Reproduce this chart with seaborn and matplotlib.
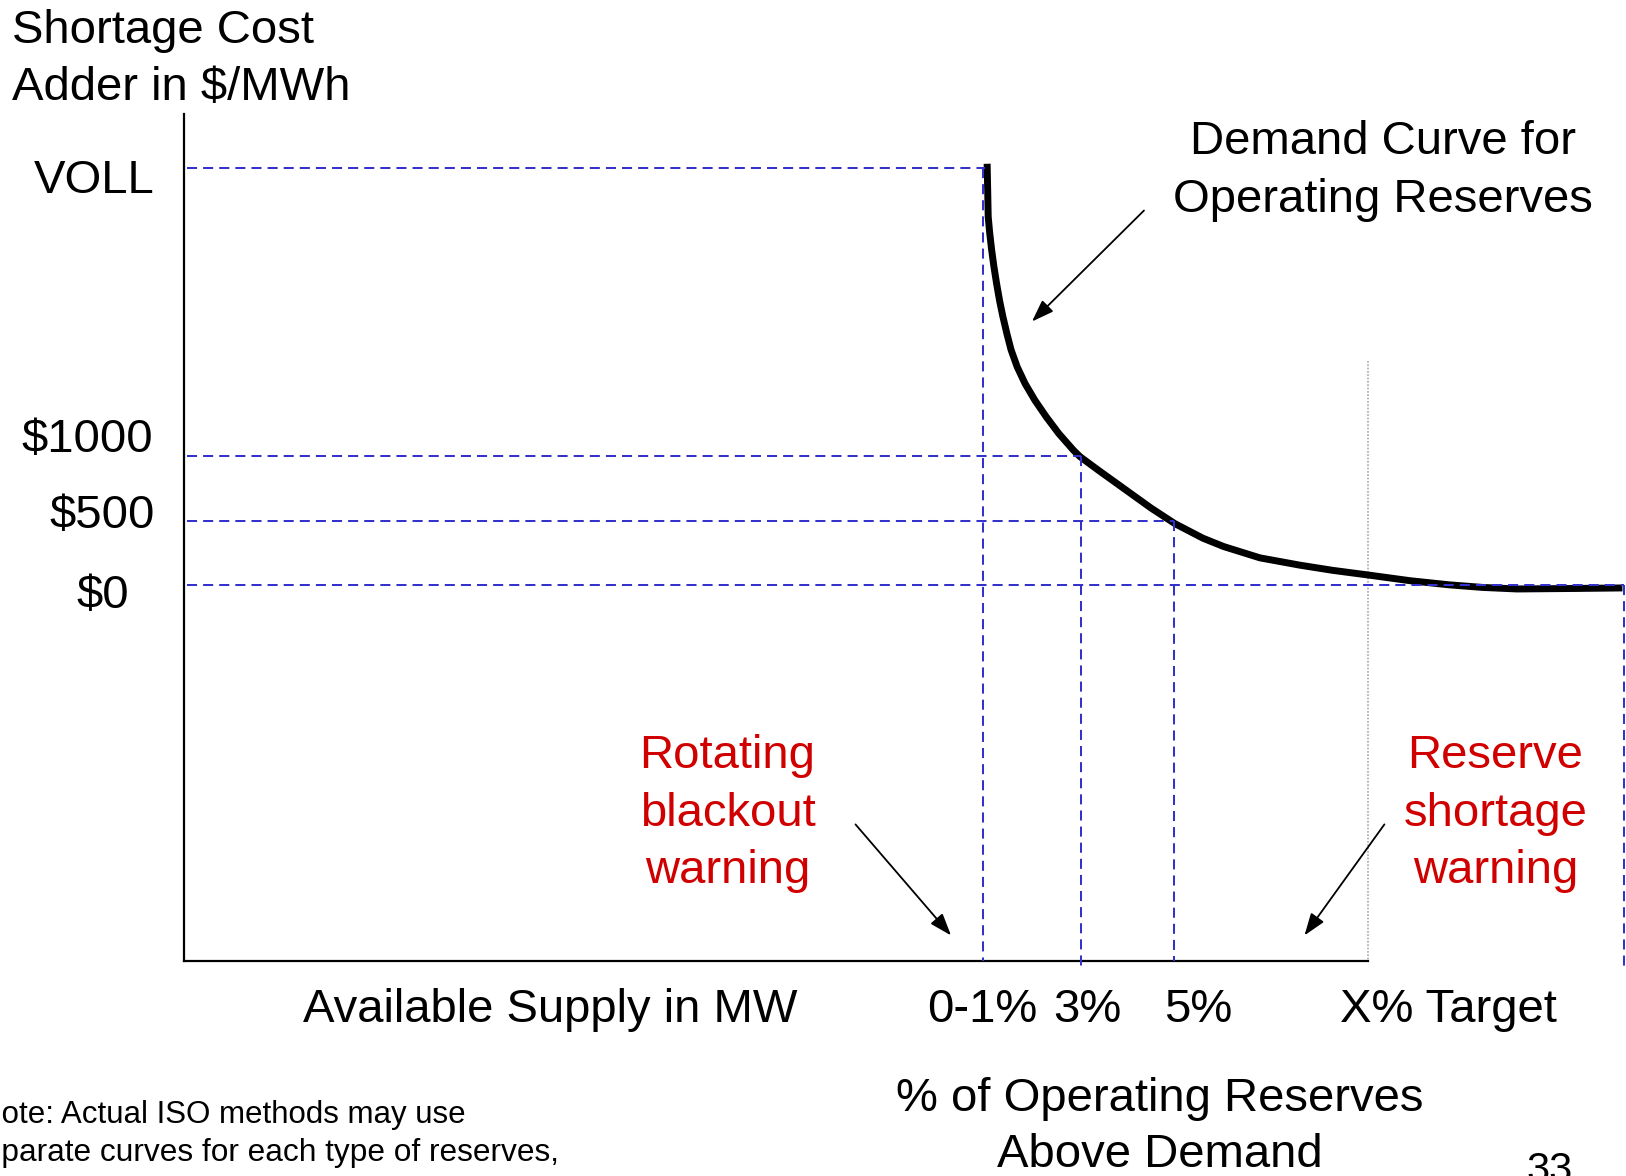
import matplotlib
matplotlib.use("Agg")
import matplotlib.pyplot as plt
import numpy as np
import pandas as pd
import seaborn as sns

# ---- data -------------------------------------------------------------
# Operating-reserve demand curve (x: position along supply axis, y: $/MWh adder)
curve_x = [67.80, 67.85, 67.89, 68.02, 68.18, 68.37, 68.59, 68.85, 69.12,
           69.47, 69.82, 70.34, 71.00, 71.83, 72.79, 73.84, 75.07, 75.63,
           77.25, 79.44, 81.63, 83.64, 86.00, 87.75, 90.81, 94.19, 96.94,
           99.91, 103.5, 106.8, 109.6, 112.5, 117.5, 121.4]
curve_y = [3274, 3056, 2863, 2734, 2605, 2476, 2347, 2210, 2089,
           1952, 1827, 1694, 1565, 1435, 1306, 1177, 1048, 997,
           887, 742, 597, 476, 363, 298, 210, 153, 113,
           77, 32, 0, -20, -32, -28, -24]

# Price levels marked on the vertical axis
price_levels = [3240, 1000, 500, 0]
price_labels = ["VOLL", "$1000", "$500", "$0"]
# where each price level meets the curve
level_reach = [67.6, 75.7, 83.6, 121.5]

# Reserve-margin markers on the horizontal axis
reserve_pos = [67.45, 75.7, 83.6, 121.5]
reserve_top = [3240, 1000, 500, 0]
reserve_labels = ["0-1%", "3%", "5%"]
target_pos = 99.9
target_label = "X% Target"

# ---- style ------------------------------------------------------------
sns.set_theme(style="white")
plt.rcParams["font.family"] = ["Liberation Sans", "DejaVu Sans"]
plt.rcParams["text.color"] = "black"

BLUE = "#3333CC"
RED = "#D00000"
DASH = (0, (5, 3))
FS = 34

W, H = 1626, 1176
fig = plt.figure(figsize=(W / 100, H / 100), dpi=100)
fig.patch.set_facecolor("white")


def fx(x):
    return x / W


def fy(y):
    return 1 - y / H


ax_left, ax_top, ax_bottom = 183.5, 114.0, 961.3
ax = fig.add_axes([fx(ax_left), fy(ax_bottom), (W - ax_left) / W,
                   (ax_bottom - ax_top) / H])
ax.set_facecolor("white")
ax.set_xlim(0, 121.7)
ax.set_ylim(-2927, 3661)

# demand curve
df = pd.DataFrame({"reserve": curve_x, "price": curve_y})
sns.lineplot(data=df, x="reserve", y="price", color="black", lw=5,
             estimator=None, sort=False, ax=ax, zorder=2,
             solid_capstyle="butt", solid_joinstyle="round")

# dashed guide lines for the price levels
for lvl, xe in zip(price_levels, level_reach):
    ax.plot([0.3, xe], [lvl, lvl], color=BLUE, lw=1.45, ls=DASH,
            zorder=3, clip_on=False)

# dashed guide lines for the reserve margins
drop = [-2927, -2992, -2927, -2992]
for xp, yt, yb in zip(reserve_pos, reserve_top, drop):
    ax.plot([xp, xp], [yt, yb], color=BLUE, lw=1.45, ls=DASH,
            zorder=3, clip_on=False)

# target reserve level
ax.plot([target_pos, target_pos], [1742, -2927], color="#A8A8A8", lw=1.2,
        ls=(0, (1, 1)), zorder=1)

for side in ["top", "right"]:
    ax.spines[side].set_visible(False)
for side in ["left", "bottom"]:
    ax.spines[side].set_color("black")
    ax.spines[side].set_linewidth(1.6)
ax.spines["bottom"].set_bounds(0, target_pos)
ax.set_xticks([])
ax.set_yticks([])
ax.set_xlabel("")
ax.set_ylabel("")
ax.grid(False)

# ---- text -------------------------------------------------------------
fig.text(fx(12.4), fy(43), "Shortage Cost", fontsize=FS, ha="left", va="baseline")
fig.text(fx(12.4), fy(100), "Adder in $/MWh", fontsize=FS, ha="left", va="baseline")

ylab_pos = [(155, 193), (153, 451.7), (155, 528), (128.6, 608)]
for lab, (x, y) in zip(price_labels, ylab_pos):
    fig.text(fx(x), fy(y), lab, fontsize=FS, ha="right", va="baseline")

fig.text(fx(1383), fy(154), "Demand Curve for", fontsize=FS, ha="center", va="baseline")
fig.text(fx(1383), fy(211.5), "Operating Reserves", fontsize=FS, ha="center", va="baseline")

for i, line in enumerate(["Rotating", "blackout", "warning"]):
    fig.text(fx(727.5), fy(768 + 57.7 * i), line, fontsize=FS, color=RED,
             ha="center", va="baseline")
for i, line in enumerate(["Reserve", "shortage", "warning"]):
    fig.text(fx(1495.5), fy(768 + 57.7 * i), line, fontsize=FS, color=RED,
             ha="center", va="baseline")

fig.text(fx(550.6), fy(1022.5), "Available Supply in MW", fontsize=FS,
         ha="center", va="baseline")
xlab_x = [982, 1087, 1198]
for lab, x in zip(reserve_labels, xlab_x):
    fig.text(fx(x), fy(1022.5), lab, fontsize=FS, ha="center", va="baseline")
fig.text(fx(1448), fy(1022.5), target_label, fontsize=FS, ha="center", va="baseline")

fig.text(fx(1159.4), fy(1111), "% of Operating Reserves", fontsize=FS,
         ha="center", va="baseline")
fig.text(fx(1159.4), fy(1167), "Above Demand", fontsize=FS,
         ha="center", va="baseline")

fig.text(fx(-21), fy(1123), "Note: Actual ISO methods may use", fontsize=22.5,
         ha="left", va="baseline")
fig.text(fx(-32), fy(1161.5), "separate curves for each type of reserves,",
         fontsize=22.8, ha="left", va="baseline")
fig.text(fx(-32), fy(1201), "or may use one curve as a \u201cmax\u201d",
         fontsize=22.5, ha="left", va="baseline")

fig.text(fx(1550), fy(1182), "33", fontsize=30, ha="center", va="baseline")

# ---- arrows -----------------------------------------------------------
arrow_style = dict(arrowstyle="-|>,head_length=0.45,head_width=0.16",
                   color="black", lw=1.3, mutation_scale=30,
                   shrinkA=0, shrinkB=0)
arrows = [((1144, 210.5), (1032, 321.5)),
          ((855.5, 824.4), (951, 935.4)),
          ((1384.4, 824.4), (1304.5, 935.4))]
for (x0, y0), (x1, y1) in arrows:
    ax.annotate("", xy=(fx(x1), fy(y1)), xytext=(fx(x0), fy(y0)),
                xycoords="figure fraction", textcoords="figure fraction",
                arrowprops=arrow_style, annotation_clip=False)

fig.savefig("out.png", dpi=100, facecolor="white")
